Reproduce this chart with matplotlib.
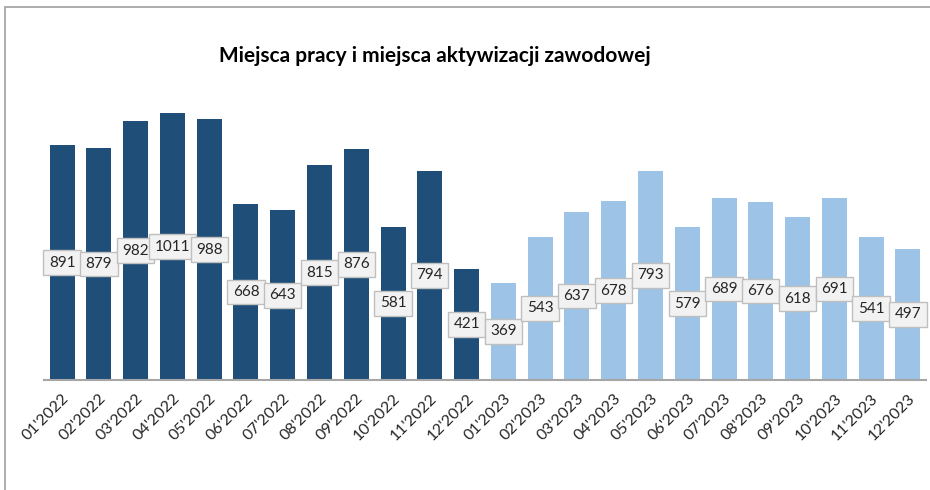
import matplotlib
matplotlib.use("Agg")
import matplotlib.pyplot as plt
from matplotlib.patches import Rectangle

months = ["01", "02", "03", "04", "05", "06", "07", "08", "09", "10", "11", "12"]
labels_2022 = [f"{m}'2022" for m in months]
labels_2023 = [f"{m}'2023" for m in months]
values_2022 = [891, 879, 982, 1011, 988, 668, 643, 815, 876, 581, 794, 421]
values_2023 = [369, 543, 637, 678, 793, 579, 689, 676, 618, 691, 541, 497]

DARK = "#1f4e79"; LIGHT = "#9dc3e6"; AXIS = "#a6a6a6"
plt.rcParams["font.family"] = ["Lato", "DejaVu Sans"]

labels = labels_2022 + labels_2023
values = values_2022 + values_2023
colors = [DARK] * len(values_2022) + [LIGHT] * len(values_2023)
x = list(range(len(values)))

fig = plt.figure(figsize=(9.3, 4.9), dpi=100)
ax = fig.add_axes([0.047, 0.2245, 0.949, 0.592])

ax.bar(x, values, width=0.68, color=colors, zorder=2)
for xi, v in zip(x, values):
    ax.text(xi, v / 2, str(v), ha="center", va="center", fontsize=11, color="#262626",
            bbox=dict(boxstyle="square,pad=0.35", fc="#f2f2f2", ec="#bfbfbf", lw=1), zorder=3)

ax.set_xlim(-0.5, len(values) - 0.5)
ax.set_ylim(0, 1100)
ax.set_yticks([])
ax.set_xticks(x)
ax.set_xticklabels(labels, rotation=45, ha="right", rotation_mode="anchor", fontsize=11.5, color="#262626")
ax.tick_params(axis="x", length=0, pad=8)
for s in ["top", "right", "left"]:
    ax.spines[s].set_visible(False)
ax.spines["bottom"].set_color(AXIS)
ax.spines["bottom"].set_linewidth(1.5)

fig.text(0.468, 0.885, "Miejsca pracy i miejsca aktywizacji zawodowej", ha="center", va="center",
         fontsize=15, fontweight="bold", color="#000000")

# outer chart frame (top and left edges visible)
fig.add_artist(Rectangle((0.005, -0.05), 1.2, 1.035, transform=fig.transFigure,
                         fill=False, ec="#a0a0a0", lw=1.2))

fig.savefig("out.png", dpi=100)
